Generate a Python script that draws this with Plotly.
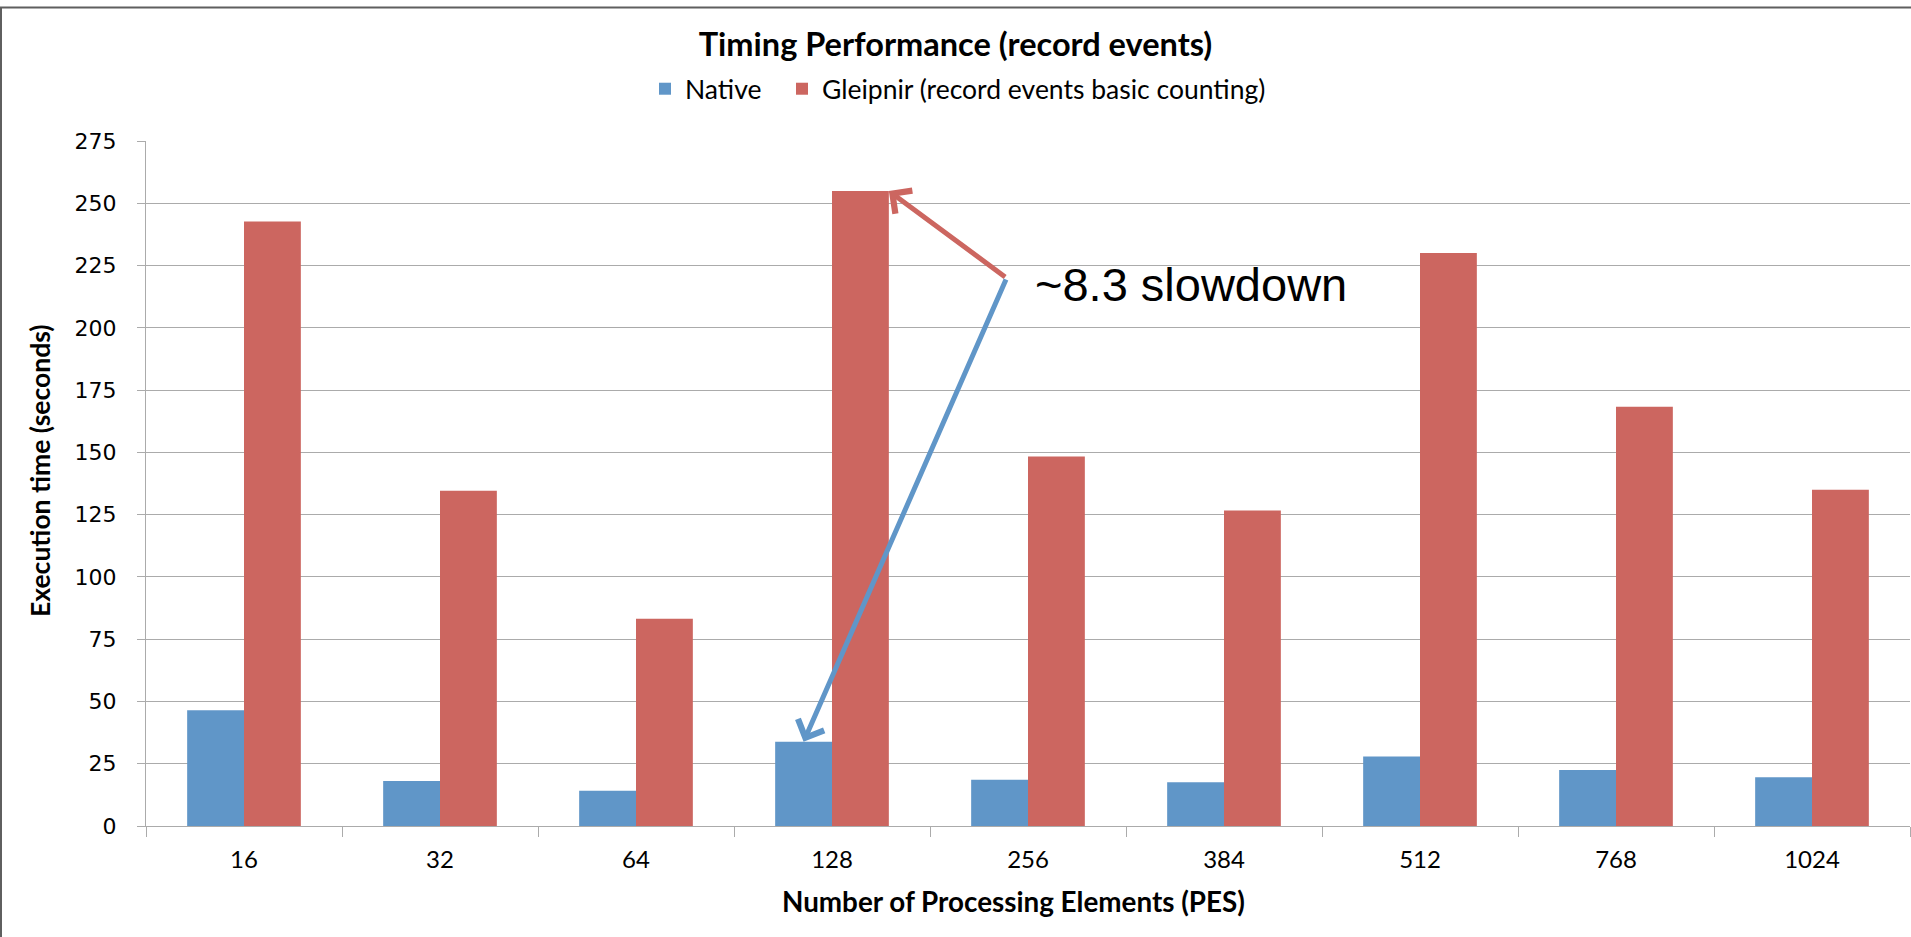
import plotly.graph_objects as go

categories = ["16", "32", "64", "128", "256", "384", "512", "768", "1024"]
native = [46.5, 18.1, 14.2, 33.8, 18.6, 17.6, 27.9, 22.5, 19.6]
gleipnir = [242.7, 134.6, 83.2, 254.9, 148.3, 126.7, 230.0, 168.3, 135.0]
series_names = ["Native", "Gleipnir (record events basic counting)"]
y_ticks = list(range(0, 276, 25))

BLUE = "#6096C8"
RED = "#CC6660"
NARROW = "Liberation Sans Narrow, Arial Narrow, Lato, sans-serif"

W, H = 1911, 937
L, R, T, B = 146, 1, 141, 111
pw, ph = W - L - R, H - T - B

def px_to_paper_x(px):
    return (px - L) / pw

def px_to_paper_y(py):
    return (H - B - py) / ph

fig = go.Figure()
fig.add_trace(go.Bar(x=categories, y=native, name=series_names[0], legend="legend",
                     marker=dict(color=BLUE, line=dict(width=0))))
fig.add_trace(go.Bar(x=categories, y=gleipnir, name=series_names[1], legend="legend2",
                     marker=dict(color=RED, line=dict(width=0))))

bargap = 0.42
half = (1 - bargap) / 4  # center offset of each bar in its group
idx128 = categories.index("128")

# annotation arrows: tail at label, heads at the 128 bars
tail_x, tail_y = 3.891, 220.0
fig.add_annotation(x=idx128 + 2 * half, y=gleipnir[idx128], ax=tail_x, ay=tail_y,
                   xref="x", yref="y", axref="x", ayref="y", text="",
                   showarrow=True, arrowhead=4, arrowsize=1.1, arrowwidth=5,
                   arrowcolor=RED)
fig.add_annotation(x=idx128 - half, y=native[idx128], ax=tail_x, ay=tail_y,
                   xref="x", yref="y", axref="x", ayref="y", text="",
                   showarrow=True, arrowhead=4, arrowsize=1.1, arrowwidth=5,
                   arrowcolor=BLUE)
fig.add_annotation(x=4.028, y=217.2, xref="x", yref="y", text="~8.3 slowdown",
                   showarrow=False, xanchor="left", yanchor="middle",
                   font=dict(family="Liberation Sans, Arial", size=47, color="#000000"))

# axis titles
fig.add_annotation(x=px_to_paper_x(1013), y=px_to_paper_y(902), xref="paper", yref="paper",
                   text="<b>Number of Processing Elements (PES)</b>", showarrow=False,
                   xanchor="center", yanchor="middle",
                   font=dict(family=NARROW, size=27.8, color="#000000"))
fig.add_annotation(x=px_to_paper_x(40), y=px_to_paper_y(471), xref="paper", yref="paper",
                   text="<b>Execution time (seconds)</b>", showarrow=False, textangle=-90,
                   xanchor="center", yanchor="middle",
                   font=dict(family=NARROW, size=26.5, color="#000000"))

# chart frame
fig.add_shape(type="rect", xref="paper", yref="paper",
              x0=px_to_paper_x(1), x1=px_to_paper_x(W + 20),
              y0=px_to_paper_y(H + 20), y1=px_to_paper_y(7.5),
              line=dict(color="#5f5f5f", width=2), fillcolor="rgba(0,0,0,0)", layer="above")

legend_common = dict(orientation="h", xanchor="left", yanchor="middle",
                     y=px_to_paper_y(89),
                     font=dict(family=NARROW, size=26.5, color="#000000"),
                     bgcolor="rgba(0,0,0,0)", itemwidth=30)

fig.update_layout(
    width=W, height=H,
    margin=dict(l=L, r=R, t=T, b=B),
    paper_bgcolor="white", plot_bgcolor="white",
    barmode="group", bargap=bargap, bargroupgap=0,
    title=dict(text="<b>Timing Performance (record events)</b>", x=0.5, xref="container",
               xanchor="center", y=1 - 45 / H, yanchor="middle",
               font=dict(family=NARROW, size=32.5, color="#000000")),
    legend=dict(x=px_to_paper_x(645), **legend_common),
    legend2=dict(x=px_to_paper_x(782), **legend_common),
    showlegend=True,
    xaxis=dict(type="category", showgrid=False, showline=True, linecolor="#ABABAB", linewidth=1,
               ticks="outside", tickson="boundaries", ticklen=10, tickcolor="#ABABAB",
               tickfont=dict(family=NARROW, size=24, color="#000000"),
               ticklabelstandoff=12, range=[-0.5, 8.5]),
    yaxis=dict(range=[0, 275], tickvals=y_ticks, showgrid=True, gridcolor="#ABABAB", gridwidth=1,
               showline=True, linecolor="#ABABAB", linewidth=1, zeroline=False,
               ticks="outside", ticklen=8, tickcolor="#ABABAB",
               tickfont=dict(family="DejaVu Sans", size=22, color="#000000"),
               ticklabelstandoff=16),
)

fig.write_html("out.html")
